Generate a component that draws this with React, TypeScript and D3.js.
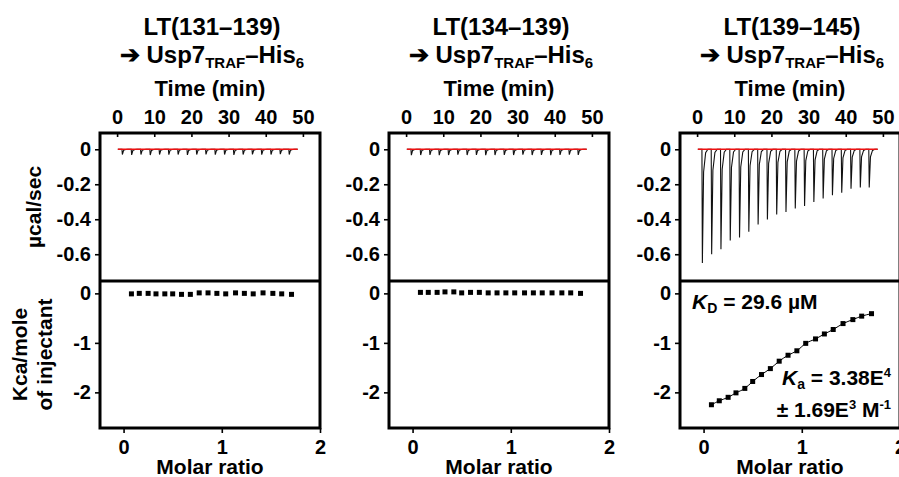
import React, { useEffect, useRef } from "react";
import * as d3 from "d3";

// time axis (min) and injection schedule, same for all three runs
const timeTicks = [0, 10, 20, 30, 40, 50];
const injectionTimes = [
  1.3, 3.8, 6.3, 8.8, 11.3, 13.8, 16.3, 18.8, 21.3, 23.8, 26.3, 28.8, 31.3,
  33.8, 36.3, 38.8, 41.3, 43.8, 46.2,
];
const traceRange = [0.2, 48.6];

// peak depths (µcal/sec)
const peaks131 = [
  0.03, 0.032, 0.03, 0.033, 0.03, 0.031, 0.03, 0.032, 0.03, 0.029, 0.031, 0.03,
  0.032, 0.03, 0.029, 0.031, 0.03, 0.028, 0.03,
];
const peaks134 = [
  0.034, 0.033, 0.032, 0.034, 0.033, 0.031, 0.033, 0.032, 0.034, 0.033, 0.032,
  0.033, 0.031, 0.033, 0.032, 0.034, 0.032, 0.031, 0.032,
];
const peaks139 = [
  0.65, 0.6, 0.571, 0.522, 0.505, 0.472, 0.43, 0.402, 0.373, 0.358, 0.339,
  0.324, 0.301, 0.282, 0.263, 0.248, 0.225, 0.219, 0.219,
];

// integrated heats (kcal/mole of injectant) vs molar ratio
const molarRatio = [
  0.08, 0.16, 0.25, 0.33, 0.42, 0.5, 0.59, 0.68, 0.77, 0.86, 0.95, 1.04, 1.14,
  1.23, 1.32, 1.42, 1.52, 1.61, 1.71,
];
const heat131 = [
  -0.01, 0, 0, -0.01, -0.01, -0.01, -0.02, -0.02, 0.01, 0.01, 0, -0.01, 0.01, 0,
  -0.01, 0.01, 0, -0.01, -0.02,
];
const heat134 = [
  0.02, 0.02, 0.02, 0.03, 0.03, 0.01, 0.02, 0.02, 0.01, 0.01, 0.01, 0.01, 0.01,
  0.01, 0.01, 0.01, 0.01, 0.01, 0,
];
const heat139 = [
  -2.25, -2.17, -2.1, -2.01, -1.92, -1.78, -1.64, -1.52, -1.37, -1.25, -1.16,
  -1.01, -0.92, -0.82, -0.73, -0.61, -0.53, -0.46, -0.41,
];

const powerTicks = [0, -0.2, -0.4, -0.6];
const heatTicks = [0, -1, -2];
const ratioTicks = [0, 1, 2];

const panels = [
  { left: 100, title: "LT(131–139)", peaks: peaks131, heat: heat131, fit: false },
  { left: 389, title: "LT(134–139)", peaks: peaks134, heat: heat134, fit: false },
  { left: 680, title: "LT(139–145)", peaks: peaks139, heat: heat139, fit: true },
];

const FONT = "'Liberation Sans', Arial, Helvetica, sans-serif";

const App = () => {
  const svgRef = useRef<SVGSVGElement>(null);

  useEffect(() => {
    const width = 899;
    const height = 477;
    const pw = 220;
    const top = 133;
    const mid = 281;
    const bottom = 428;

    const svg = d3.select(svgRef.current);
    svg.selectAll("*").remove();
    svg
      .attr("width", width)
      .attr("height", height)
      .style("font-family", FONT)
      .style("font-weight", "bold");

    panels.forEach((p, i) => {
      const L = p.left;
      const cx = L + 112;
      const g = svg.append("g");

      const xTime = d3.scaleLinear().domain([-4.6, 54.6]).range([L, L + pw]);
      const yPow = d3.scaleLinear().domain([0.093, -0.753]).range([top, mid]);
      const xRat = d3.scaleLinear().domain([-0.24, 2.0]).range([L, L + pw]);
      const yHeat = d3.scaleLinear().domain([0.25, -2.72]).range([mid, bottom]);

      // titles
      g.append("text")
        .attr("x", cx)
        .attr("y", 35)
        .attr("text-anchor", "middle")
        .attr("font-size", 24)
        .text(p.title);
      const t2 = g
        .append("text")
        .attr("x", cx)
        .attr("y", 63)
        .attr("text-anchor", "middle")
        .attr("font-size", 24);
      t2.append("tspan").text("➔ Usp7");
      t2.append("tspan").attr("font-size", 15).attr("dy", 5).text("TRAF");
      t2.append("tspan").attr("dy", -5).text("–His");
      t2.append("tspan").attr("font-size", 15).attr("dy", 5).text("6");

      g.append("text")
        .attr("x", L + 110)
        .attr("y", 96)
        .attr("text-anchor", "middle")
        .attr("font-size", 22)
        .text("Time (min)");

      // axes
      const timeAxis = g
        .append("g")
        .attr("transform", `translate(0,${top})`)
        .call(
          d3
            .axisTop(xTime)
            .tickValues(timeTicks)
            .tickSize(-4)
            .tickPadding(9)
            .tickFormat((d) => String(d))
        );
      const powAxis = g
        .append("g")
        .attr("transform", `translate(${L},0)`)
        .call(
          d3
            .axisLeft(yPow)
            .tickValues(powerTicks)
            .tickSize(5)
            .tickPadding(4)
            .tickFormat((d) => String(d))
        );
      const heatAxis = g
        .append("g")
        .attr("transform", `translate(${L},0)`)
        .call(
          d3
            .axisLeft(yHeat)
            .tickValues(heatTicks)
            .tickSize(5)
            .tickPadding(4)
            .tickFormat((d) => String(d))
        );
      const ratAxis = g
        .append("g")
        .attr("transform", `translate(0,${bottom})`)
        .call(
          d3
            .axisBottom(xRat)
            .tickValues(ratioTicks)
            .tickSize(5)
            .tickPadding(7)
            .tickFormat((d) => String(d))
        );
      [timeAxis, powAxis, heatAxis, ratAxis].forEach((a) => {
        a.select(".domain").remove();
        a.selectAll("line").attr("stroke", "#000").attr("stroke-width", 1.6);
        a.selectAll("text")
          .attr("fill", "#000")
          .attr("font-size", 20)
          .attr("font-family", FONT)
          .attr("font-weight", "bold");
      });
      timeAxis.selectAll("text").attr("font-size", 20);

      g.append("text")
        .attr("x", L + 110)
        .attr("y", 474)
        .attr("text-anchor", "middle")
        .attr("font-size", 21)
        .text("Molar ratio");

      // raw thermogram
      const trace: [number, number][] = [[traceRange[0], 0]];
      injectionTimes.forEach((t, k) => {
        const d = p.peaks[k];
        trace.push([t, 0], [t + 0.12, -d], [t + 0.45, -d * 0.2], [t + 1.0, -d * 0.03], [t + 1.6, 0]);
      });
      trace.push([traceRange[1], 0]);
      const line = d3
        .line<[number, number]>()
        .x((d) => xTime(d[0]))
        .y((d) => yPow(d[1]));
      g.append("path")
        .datum(trace)
        .attr("fill", "none")
        .attr("stroke", "#111")
        .attr("stroke-width", 1.1)
        .attr("d", line);
      g.append("path")
        .datum(traceRange.map((t) => [t, 0] as [number, number]))
        .attr("fill", "none")
        .attr("stroke", "#ee1111")
        .attr("stroke-width", 1.5)
        .attr("d", line);

      // integrated heats
      const pts = molarRatio.map((m, k) => [m, p.heat[k]] as [number, number]);
      if (p.fit) {
        g.append("path")
          .datum(pts)
          .attr("fill", "none")
          .attr("stroke", "#000")
          .attr("stroke-width", 1)
          .attr(
            "d",
            d3
              .line<[number, number]>()
              .curve(d3.curveMonotoneX)
              .x((d) => xRat(d[0]))
              .y((d) => yHeat(d[1]))
          );
      }
      g.selectAll(".pt")
        .data(pts)
        .join("rect")
        .attr("x", (d) => xRat(d[0]) - 2.5)
        .attr("y", (d) => yHeat(d[1]) - 2.5)
        .attr("width", 5)
        .attr("height", 5)
        .attr("fill", "#000");

      // frames
      g.append("rect")
        .attr("x", L)
        .attr("y", top)
        .attr("width", pw)
        .attr("height", bottom - top)
        .attr("fill", "none")
        .attr("stroke", "#000")
        .attr("stroke-width", 3);
      g.append("line")
        .attr("x1", L)
        .attr("x2", L + pw)
        .attr("y1", mid)
        .attr("y2", mid)
        .attr("stroke", "#000")
        .attr("stroke-width", 3);

      if (i === 0) {
        svg
          .append("text")
          .attr("transform", `translate(41,${(top + mid) / 2}) rotate(-90)`)
          .attr("text-anchor", "middle")
          .attr("font-size", 21)
          .text("µcal/sec");
        svg
          .append("text")
          .attr("transform", `translate(27,${(mid + bottom) / 2}) rotate(-90)`)
          .attr("text-anchor", "middle")
          .attr("font-size", 21)
          .text("Kca/mole");
        svg
          .append("text")
          .attr("transform", `translate(52,${(mid + bottom) / 2}) rotate(-90)`)
          .attr("text-anchor", "middle")
          .attr("font-size", 21)
          .text("of injectant");
      }

      if (p.fit) {
        const kd = g.append("text").attr("x", L + 12).attr("y", 309).attr("font-size", 21);
        kd.append("tspan").attr("font-style", "italic").text("K");
        kd.append("tspan").attr("font-size", 14).attr("dy", 4).text("D");
        kd.append("tspan").attr("dy", -4).text(" = 29.6 µM");

        const ka = g
          .append("text")
          .attr("x", L + 211)
          .attr("y", 385)
          .attr("text-anchor", "end")
          .attr("font-size", 21);
        ka.append("tspan").attr("font-style", "italic").text("K");
        ka.append("tspan").attr("font-size", 14).attr("dy", 4).text("a");
        ka.append("tspan").attr("dy", -4).text(" = 3.38E");
        ka.append("tspan").attr("font-size", 13).attr("dy", -8).text("4");

        const err = g
          .append("text")
          .attr("x", L + 211)
          .attr("y", 417)
          .attr("text-anchor", "end")
          .attr("font-size", 21);
        err.append("tspan").text("± 1.69E");
        err.append("tspan").attr("font-size", 13).attr("dy", -8).text("3");
        err.append("tspan").attr("dy", 8).text(" M");
        err.append("tspan").attr("font-size", 13).attr("dy", -8).text("-1");
      }
    });
  }, []);

  return (
    <svg
      ref={svgRef}
      style={{ position: "absolute", left: 0, top: 0, background: "#fff" }}
    ></svg>
  );
};

export default App;
